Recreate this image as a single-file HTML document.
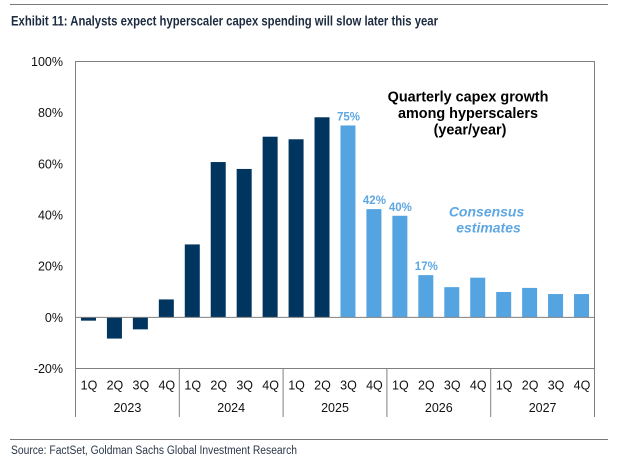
<!DOCTYPE html>
<html>
<head>
<meta charset="utf-8">
<style>
html,body{margin:0;padding:0;background:#fff;width:618px;height:471px;overflow:hidden}
svg{display:block}
text{font-family:"Liberation Sans",Arial,sans-serif}
</style>
</head>
<body>
<svg id="chart" width="618" height="471" viewBox="0 0 618 471" xmlns="http://www.w3.org/2000/svg">
  <rect x="0" y="0" width="618" height="471" fill="#fff"/>
  <line x1="10" x2="608" y1="4.5" y2="4.5" stroke="#77787a" stroke-width="1"/>
  <text x="11" y="25.5" font-size="13.5" font-weight="700" fill="#1c2b3f" textLength="427" lengthAdjust="spacingAndGlyphs">Exhibit 11: Analysts expect hyperscaler capex spending will slow later this year</text>
  <line x1="10" x2="608" y1="439.5" y2="439.5" stroke="#77787a" stroke-width="1"/>
  <text x="11" y="454" font-size="11.5" fill="#2a3648" textLength="286" lengthAdjust="spacingAndGlyphs">Source: FactSet, Goldman Sachs Global Investment Research</text>
  <g id="plot"></g>
  <text text-anchor="middle" font-size="14.4" font-weight="700" fill="#000">
    <tspan x="470" y="101.5">Quarterly capex growth</tspan>
    <tspan x="470" y="118">among hyperscalers</tspan>
    <tspan x="470" y="134.5">(year/year)</tspan>
  </text>
  <text text-anchor="middle" font-size="14" font-weight="700" font-style="italic" fill="#5ea7e3">
    <tspan x="488.5" y="216.5">Consensus</tspan>
    <tspan x="488.5" y="232.5">estimates</tspan>
  </text>
</svg>
<script>
const years = ['2023', '2024', '2025', '2026', '2027'];
const quarters = ['1Q', '2Q', '3Q', '4Q'];
const growthValues = [-1.3, -8.3, -4.7, 7, 28.5, 60.7, 58, 70.6, 69.6, 78.2, 75, 42.3, 39.7, 16.5, 11.8, 15.5, 9.9, 11.5, 9.1, 9.1];
const estimateFlags = [0, 0, 0, 0, 0, 0, 0, 0, 0, 0, 1, 1, 1, 1, 1, 1, 1, 1, 1, 1];
const printedLabels = ['', '', '', '', '', '', '', '', '', '', '75%', '42%', '40%', '17%', '', '', '', '', '', ''];
const yTicks = [100, 80, 60, 40, 20, 0, -20];

const NS = 'http://www.w3.org/2000/svg';
const plot = document.getElementById('plot');
const left = 75.5, right = 594.5, top_ = 61.5, bottom = 368.5, axisBottom = 417;
const yMax = 100, yMin = -20;
const slot = (right - left) / growthValues.length;
const y = v => top_ + (yMax - v) / (yMax - yMin) * (bottom - top_);
const x = i => left + slot * i;
const AXIS = '#808080';

function make(tag, attrs, text) {
  const el = document.createElementNS(NS, tag);
  for (const k in attrs) el.setAttribute(k, attrs[k]);
  if (text !== undefined) el.textContent = text;
  plot.appendChild(el);
  return el;
}

growthValues.forEach((v, i) => {
  const el = make('rect', {
    x: x(i) + (slot - 15) / 2,
    y: Math.min(y(v), y(0)),
    width: 15,
    height: Math.abs(y(v) - y(0)),
    fill: estimateFlags[i] ? '#54a4e2' : '#00355f'
  });
  
  
  if (printedLabels[i]) {
    const t = make('text', {
      x: x(i) + slot / 2 + 0.5,
      y: y(v) - 5,
      'text-anchor': 'middle',
      'font-size': 11.5,
      'font-weight': 700,
      fill: '#5ea7e3'
    }, printedLabels[i]);
    
    
  }
});

const frame = make('rect', {
  x: left, y: top_, width: right - left, height: bottom - top_,
  fill: 'none', stroke: AXIS, 'stroke-width': 1
});



const zero = make('line', {
  x1: left, x2: right, y1: y(0), y2: y(0), stroke: AXIS, 'stroke-width': 1
});



yTicks.forEach(v => {
  const t = make('text', {
    x: 63, y: y(v) + 4.5, 'text-anchor': 'end', 'font-size': 12.5, fill: '#111'
  }, v + '%');
  
  
});

growthValues.forEach((v, i) => {
  const t = make('text', {
    x: x(i) + slot / 2 + 0.5, y: 389.5, 'text-anchor': 'middle', 'font-size': 12.5, fill: '#111'
  }, quarters[i % quarters.length]);
  
  
});

years.forEach((yr, i) => {
  const span = slot * quarters.length;
  const t = make('text', {
    x: left + span * i + span / 2, y: 412, 'text-anchor': 'middle', 'font-size': 12.5, fill: '#111'
  }, yr);
  
  
});

for (let i = 0; i <= years.length; i++) {
  const px = left + slot * quarters.length * i;
  const d = make('line', {
    x1: px, x2: px, y1: bottom, y2: axisBottom, stroke: AXIS, 'stroke-width': 1
  });
  
  
}
</script>
</body>
</html>
